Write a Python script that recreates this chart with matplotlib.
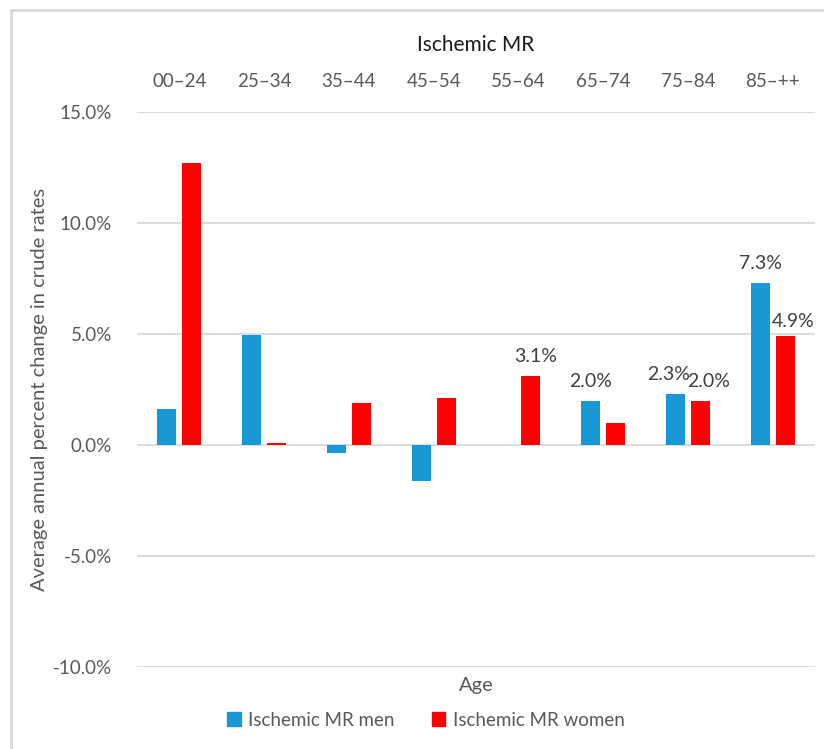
import matplotlib
matplotlib.use("Agg")
import matplotlib.pyplot as plt
from matplotlib.lines import Line2D
from matplotlib.patches import Patch
import numpy as np

categories = ["00\u201324", "25\u201334", "35\u201344", "45\u201354", "55\u201364", "65\u201374", "75\u201384", "85\u2013++"]
men = [1.6, 4.95, -0.35, -1.6, 0.0, 2.0, 2.3, 7.3]
women = [12.7, 0.1, 1.9, 2.1, 3.1, 1.0, 2.0, 4.9]
men_labels = [None, None, None, None, None, "2.0%", "2.3%", "7.3%"]
women_labels = [None, None, None, None, "3.1%", None, "2.0%", "4.9%"]
yticks = [-10, -5, 0, 5, 10, 15]

plt.rcParams['font.family'] = ['Lato', 'DejaVu Sans']

W, H = 824, 749
fig = plt.figure(figsize=(W/100, H/100), dpi=100)
ax = fig.add_axes([137/W, 1-667/H, (815-137)/W, (667-112)/H])

x = np.arange(len(categories))
bw = 0.224
off = 0.147
blue = "#1a98d5"
red = "#ff0000"
ax.bar(x - off, men, bw, color=blue, zorder=3)
ax.bar(x + off, women, bw, color=red, zorder=3)

# label offsets in pixels (dx, dy)
men_shift = {6: (-7, 11), 7: (0, 11)}
women_shift = {4: (5, 11), 6: (8, 11), 7: (8, 6)}
for i, (v, l) in enumerate(zip(men, men_labels)):
    if l:
        dx, dy = men_shift.get(i, (0, 11))
        ax.annotate(l, (x[i]-off, v), xytext=(dx, dy), textcoords="offset pixels",
                    ha="center", va="bottom", fontsize=14, color="#404040")
for i, (v, l) in enumerate(zip(women, women_labels)):
    if l:
        dx, dy = women_shift.get(i, (0, 11))
        ax.annotate(l, (x[i]+off, v), xytext=(dx, dy), textcoords="offset pixels",
                    ha="center", va="bottom", fontsize=14, color="#404040")

ax.set_ylim(-10, 15)
ax.set_xlim(-0.5, len(categories)-0.5)
ax.set_yticks(yticks)
ax.set_yticklabels([f"{t:.1f}%" for t in yticks], fontsize=13.5, color="#595959")
ax.yaxis.grid(True, color="#d9d9d9", linewidth=1.3, zorder=0)
ax.set_axisbelow(True)
ax.tick_params(axis="y", length=0, pad=18)
ax.xaxis.tick_top()
ax.set_xticks(x)
ax.set_xticklabels(categories, fontsize=13.5, color="#595959")
ax.tick_params(axis="x", length=0, pad=16)
for s in ax.spines.values():
    s.set_visible(False)

fig.text(476/W, 1-45/H, "Ischemic MR", ha="center", va="center", fontsize=15, color="#1a1a1a")
fig.text(476/W, 1-685/H, "Age", ha="center", va="center", fontsize=14.5, color="#595959")
fig.text(40/W, 1-389/H, "Average annual percent change in crude rates", rotation=90,
         ha="center", va="center", fontsize=14.5, color="#595959")

handles = [Patch(color=blue, label="Ischemic MR men"), Patch(color=red, label="Ischemic MR women")]
fig.legend(handles=handles, loc="center", bbox_to_anchor=(426/W, 1-720/H), ncol=2, frameon=False,
           fontsize=13.5, handlelength=0.7, handleheight=0.7, columnspacing=2.0, handletextpad=0.4,
           labelcolor="#595959")

# border
fig.add_artist(Line2D([11/W, 11/W], [0, 1-10/H], color="#d9d9d9", linewidth=2, transform=fig.transFigure))
fig.add_artist(Line2D([11/W, 1], [1-10/H, 1-10/H], color="#d9d9d9", linewidth=2, transform=fig.transFigure))

fig.savefig("out.png", dpi=100)
